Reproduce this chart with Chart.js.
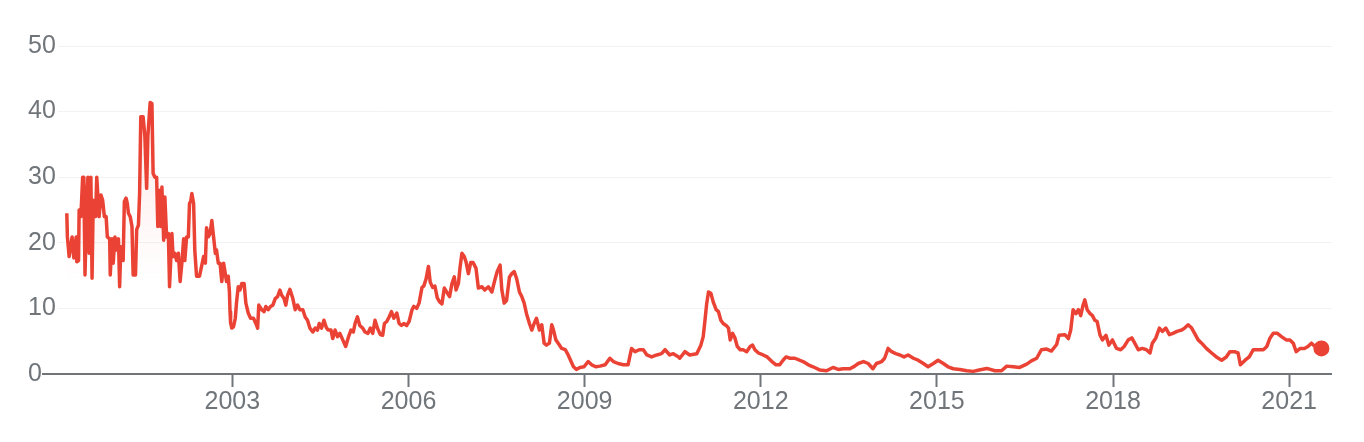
<!DOCTYPE html>
<html>
<head>
<meta charset="utf-8">
<script src="https://cdn.jsdelivr.net/npm/chart.js@4/dist/chart.umd.min.js"></script>
<style>
  html, body { margin: 0; padding: 0; background: #fff; }
  #chart { display: block; }
</style>
</head>
<body>
<canvas id="chart" width="1364" height="442"></canvas>
<script>
// decimal years
const years = [
  2000.18, 2000.19, 2000.22, 2000.27, 2000.30, 2000.34, 2000.35, 2000.38, 2000.39, 2000.42,
  2000.45, 2000.47, 2000.49, 2000.52, 2000.54, 2000.56, 2000.59, 2000.61, 2000.63, 2000.67,
  2000.69, 2000.73, 2000.76, 2000.79, 2000.82, 2000.85, 2000.87, 2000.91, 2000.92, 2000.95,
  2000.97, 2001.00, 2001.03, 2001.06, 2001.08, 2001.10, 2001.14, 2001.16, 2001.19, 2001.21,
  2001.23, 2001.26, 2001.29, 2001.31, 2001.35, 2001.37, 2001.40, 2001.42, 2001.44, 2001.48,
  2001.51, 2001.54, 2001.56, 2001.60, 2001.63, 2001.65, 2001.68, 2001.71, 2001.73, 2001.76,
  2001.78, 2001.80, 2001.83, 2001.85, 2001.88, 2001.91, 2001.93, 2001.97, 2001.99, 2002.02,
  2002.05, 2002.08, 2002.11, 2002.14, 2002.17, 2002.19, 2002.22, 2002.25, 2002.27, 2002.29,
  2002.31, 2002.34, 2002.36, 2002.39, 2002.44, 2002.48, 2002.51, 2002.54, 2002.56, 2002.59,
  2002.62, 2002.65, 2002.68, 2002.71, 2002.73, 2002.76, 2002.79, 2002.82, 2002.85, 2002.88,
  2002.90, 2002.93, 2002.95, 2002.96, 2002.97, 2002.99, 2003.02, 2003.05, 2003.07, 2003.10,
  2003.13, 2003.16, 2003.20, 2003.23, 2003.27, 2003.31, 2003.36, 2003.40, 2003.43, 2003.45,
  2003.50, 2003.54, 2003.57, 2003.61, 2003.65, 2003.69, 2003.73, 2003.77, 2003.81, 2003.84,
  2003.88, 2003.91, 2003.94, 2003.98, 2004.03, 2004.07, 2004.11, 2004.15, 2004.20, 2004.24,
  2004.28, 2004.32, 2004.37, 2004.41, 2004.45, 2004.48, 2004.52, 2004.56, 2004.60, 2004.63,
  2004.68, 2004.71, 2004.75, 2004.79, 2004.83, 2004.88, 2004.93, 2004.98, 2005.02, 2005.06,
  2005.09, 2005.13, 2005.17, 2005.22, 2005.26, 2005.31, 2005.35, 2005.39, 2005.43, 2005.47,
  2005.52, 2005.56, 2005.59, 2005.63, 2005.67, 2005.71, 2005.75, 2005.80, 2005.84, 2005.88,
  2005.92, 2005.97, 2006.01, 2006.06, 2006.09, 2006.14, 2006.18, 2006.23, 2006.26, 2006.30,
  2006.34, 2006.37, 2006.41, 2006.45, 2006.49, 2006.53, 2006.57, 2006.61, 2006.65, 2006.70,
  2006.74, 2006.78, 2006.81, 2006.85, 2006.88, 2006.91, 2006.95, 2006.98, 2007.02, 2007.06,
  2007.10, 2007.15, 2007.19, 2007.25, 2007.30, 2007.36, 2007.42, 2007.47, 2007.51, 2007.56,
  2007.59, 2007.63, 2007.67, 2007.72, 2007.76, 2007.80, 2007.84, 2007.89, 2007.93, 2007.97,
  2008.01, 2008.06, 2008.10, 2008.14, 2008.18, 2008.23, 2008.27, 2008.31, 2008.35, 2008.40,
  2008.44, 2008.47, 2008.51, 2008.55, 2008.61, 2008.67, 2008.72, 2008.76, 2008.81, 2008.86,
  2008.92, 2008.99, 2009.06, 2009.12, 2009.19, 2009.26, 2009.35, 2009.43, 2009.49, 2009.57,
  2009.66, 2009.74, 2009.80, 2009.86, 2009.93, 2010.00, 2010.06, 2010.14, 2010.23, 2010.31,
  2010.37, 2010.45, 2010.51, 2010.60, 2010.62, 2010.71, 2010.79, 2010.91, 2010.98, 2011.02,
  2011.05, 2011.08, 2011.11, 2011.15, 2011.19, 2011.24, 2011.28, 2011.32, 2011.36, 2011.41,
  2011.45, 2011.48, 2011.52, 2011.56, 2011.60, 2011.65, 2011.70, 2011.76, 2011.82, 2011.86,
  2011.90, 2011.96, 2012.04, 2012.11, 2012.19, 2012.26, 2012.32, 2012.38, 2012.43, 2012.50,
  2012.58, 2012.66, 2012.72, 2012.81, 2012.89, 2013.01, 2013.12, 2013.23, 2013.32, 2013.40,
  2013.52, 2013.60, 2013.66, 2013.75, 2013.83, 2013.91, 2013.97, 2014.06, 2014.11, 2014.17,
  2014.23, 2014.30, 2014.37, 2014.44, 2014.51, 2014.60, 2014.68, 2014.77, 2014.85, 2014.94,
  2015.02, 2015.11, 2015.19, 2015.28, 2015.39, 2015.51, 2015.62, 2015.72, 2015.85, 2015.99,
  2016.10, 2016.19, 2016.30, 2016.41, 2016.53, 2016.61, 2016.70, 2016.78, 2016.87, 2016.95,
  2017.04, 2017.08, 2017.18, 2017.24, 2017.28, 2017.32, 2017.37, 2017.41, 2017.45, 2017.49,
  2017.52, 2017.56, 2017.61, 2017.65, 2017.69, 2017.73, 2017.78, 2017.82, 2017.88, 2017.93,
  2017.99, 2018.06, 2018.13, 2018.19, 2018.26, 2018.32, 2018.37, 2018.43, 2018.50, 2018.57,
  2018.63, 2018.67, 2018.73, 2018.79, 2018.84, 2018.90, 2018.96, 2019.02, 2019.09, 2019.17,
  2019.22, 2019.28, 2019.34, 2019.39, 2019.45, 2019.51, 2019.59, 2019.68, 2019.76, 2019.85,
  2019.93, 2019.99, 2020.07, 2020.13, 2020.17, 2020.25, 2020.32, 2020.39, 2020.48, 2020.56,
  2020.62, 2020.67, 2020.73, 2020.80, 2020.87, 2020.95, 2021.01, 2021.07, 2021.12, 2021.19,
  2021.26, 2021.32, 2021.38, 2021.44, 2021.55
];

const prices = [
  24.5, 20.9, 17.9, 20.9, 17.7, 20.9, 17.1, 17.3, 25.0, 24.0,
  30.0, 30.0, 15.1, 26.5, 30.0, 18.4, 30.0, 14.6, 26.5, 24.0,
  30.0, 24.0, 27.3, 26.5, 24.0, 24.0, 20.9, 20.6, 15.1, 20.6,
  16.9, 20.9, 18.9, 20.6, 13.3, 19.4, 17.3, 26.3, 26.8, 26.0,
  24.5, 24.0, 22.5, 15.1, 15.1, 22.0, 22.7, 27.5, 39.2, 39.2,
  36.2, 28.3, 36.2, 41.4, 41.2, 30.6, 30.0, 30.0, 22.5, 28.0,
  22.5, 28.5, 20.4, 27.0, 20.9, 21.4, 13.3, 21.4, 17.9, 18.4,
  17.3, 18.4, 14.1, 16.9, 20.6, 17.3, 20.9, 20.9, 26.0, 26.3,
  27.5, 26.0, 18.9, 14.9, 14.9, 16.6, 17.9, 16.9, 22.3, 20.9,
  21.4, 23.4, 20.9, 18.4, 18.9, 16.9, 16.9, 14.1, 16.9, 15.3,
  14.1, 14.9, 12.5, 9.5, 7.8, 7.0, 7.2, 8.5, 10.8, 13.3,
  12.8, 13.8, 13.8, 10.8, 9.3, 8.5, 8.5, 7.7, 7.0, 10.5,
  9.8, 9.5, 10.3, 9.8, 10.3, 10.5, 11.5, 11.8, 12.8, 12.0,
  11.5, 10.5, 12.0, 12.9, 11.5, 9.8, 10.5, 9.8, 9.8, 8.7,
  8.2, 7.0, 6.4, 7.0, 6.7, 7.7, 7.0, 8.2, 7.1, 6.7,
  6.7, 5.4, 6.7, 5.7, 6.2, 5.2, 4.2, 5.7, 6.7, 6.4,
  7.7, 8.7, 7.4, 7.0, 6.4, 6.2, 7.0, 6.2, 8.2, 7.0,
  6.0, 5.9, 7.7, 8.0, 8.7, 9.5, 8.5, 9.3, 7.7, 7.4,
  7.7, 7.4, 8.0, 9.8, 10.3, 10.0, 10.8, 13.2, 13.4, 14.5,
  16.4, 14.0, 13.2, 13.4, 11.6, 11.0, 10.7, 13.1, 12.5, 11.8,
  13.8, 14.8, 12.8, 13.8, 16.4, 18.4, 17.9, 17.1, 15.3, 17.0,
  17.0, 16.1, 13.1, 13.3, 12.8, 13.3, 12.5, 14.3, 15.6, 16.6,
  12.8, 10.8, 11.2, 14.8, 15.3, 15.6, 14.6, 12.5, 11.8, 10.8,
  9.2, 7.7, 6.7, 7.7, 8.5, 6.7, 7.5, 4.7, 4.4, 4.7,
  7.5, 6.7, 5.2, 4.7, 3.9, 3.7, 2.9, 2.1, 1.1, 0.7,
  1.0, 1.1, 1.9, 1.4, 1.1, 1.2, 1.4, 2.4, 1.9, 1.6,
  1.4, 1.4, 3.9, 3.4, 3.7, 3.7, 2.9, 2.6, 2.9, 3.1,
  3.7, 2.9, 3.1, 2.6, 2.4, 3.4, 2.9, 3.1, 4.4, 5.7,
  8.2, 10.8, 12.5, 12.3, 11.0, 9.8, 9.5, 8.2, 7.7, 7.4,
  7.0, 5.2, 6.2, 5.5, 4.2, 3.7, 3.7, 3.4, 4.2, 4.4,
  3.7, 3.2, 2.9, 2.6, 1.9, 1.4, 1.4, 2.1, 2.6, 2.4,
  2.4, 2.1, 1.9, 1.4, 1.1, 0.6, 0.5, 1.0, 0.7, 0.8,
  0.8, 1.2, 1.6, 1.9, 1.6, 0.8, 1.6, 1.9, 2.4, 3.9,
  3.4, 3.1, 2.9, 2.6, 2.9, 2.4, 2.1, 1.6, 1.1, 1.6,
  2.1, 1.6, 1.1, 0.8, 0.7, 0.5, 0.4, 0.6, 0.85, 0.5,
  0.5, 1.2, 1.1, 1.0, 1.5, 2.0, 2.4, 3.7, 3.8, 3.5,
  4.5, 5.9, 6.0, 5.4, 6.7, 9.8, 9.2, 9.8, 8.9, 10.5,
  11.3, 9.8, 9.2, 8.9, 8.2, 8.0, 5.9, 5.2, 5.9, 4.4,
  5.2, 3.9, 3.7, 4.2, 5.2, 5.5, 4.7, 3.7, 3.9, 3.7,
  3.2, 4.7, 5.5, 7.0, 6.5, 7.0, 6.0, 6.2, 6.5, 6.7,
  7.0, 7.5, 7.0, 6.2, 5.2, 4.7, 3.9, 3.2, 2.6, 2.1,
  2.6, 3.4, 3.4, 3.2, 1.4, 2.1, 2.6, 3.7, 3.7, 3.7,
  4.2, 5.4, 6.2, 6.2, 5.7, 5.2, 5.2, 4.7, 3.4, 3.9,
  3.9, 4.2, 4.7, 4.2, 3.9
];

const tickYears = [2003, 2006, 2009, 2012, 2015, 2018, 2021];
const yTicks = [0, 10, 20, 30, 40, 50];

const RED = '#ea4335';
const GREY = '#70757a';
const FONT = { family: '"Liberation Sans", Arial, Helvetica, sans-serif', size: 25 };

// baseline starts a little left of the plot, right after the "0" label
const baseline = {
  id: 'baseline',
  afterDatasetsDraw(chart) {
    const { ctx, chartArea, scales } = chart;
    const y = scales.y.getPixelForValue(0);
    ctx.save();
    ctx.strokeStyle = GREY;
    ctx.lineWidth = 2;
    ctx.beginPath();
    ctx.moveTo(chartArea.left - 16, y);
    ctx.lineTo(chartArea.right, y);
    ctx.stroke();
    ctx.restore();
  }
};

const points = years.map((x, i) => ({ x, y: prices[i] }));
const last = points.length - 1;

new Chart(document.getElementById('chart').getContext('2d'), {
  type: 'line',
  data: {
    datasets: [{
      data: points,
      borderColor: RED,
      borderWidth: 3.5,
      borderJoinStyle: 'round',
      tension: 0,
      fill: 'origin',
      backgroundColor: (c) => {
        const { ctx, chartArea } = c.chart;
        if (!chartArea) return 'rgba(0,0,0,0)';
        // faint pink that only shows under the high early part
        const g = ctx.createLinearGradient(0, chartArea.top, 0, chartArea.bottom);
        g.addColorStop(0, 'rgba(234,67,53,0.14)');
        g.addColorStop(0.45, 'rgba(234,67,53,0.06)');
        g.addColorStop(0.72, 'rgba(234,67,53,0)');
        g.addColorStop(1, 'rgba(234,67,53,0)');
        return g;
      },
      pointRadius: (c) => (c.dataIndex === last ? 8 : 0),
      pointBackgroundColor: RED,
      pointBorderWidth: 0,
      pointHoverRadius: 0
    }]
  },
  options: {
    responsive: false,
    devicePixelRatio: 1,
    animation: false,
    events: [],
    layout: { padding: { top: 46, left: 28, right: 32, bottom: 0 } },
    plugins: { legend: { display: false }, tooltip: { enabled: false } },
    scales: {
      x: {
        type: 'linear',
        min: 2000.03,
        max: 2021.73,
        afterBuildTicks: (axis) => { axis.ticks = tickYears.map(v => ({ value: v })); },
        afterFit: (axis) => { axis.height = 68; },
        grid: { drawOnChartArea: false, drawTicks: true, tickLength: 13, tickColor: GREY, tickWidth: 2 },
        border: { display: false },
        ticks: {
          autoSkip: false,
          maxRotation: 0,
          padding: 0,
          color: GREY,
          font: FONT,
          callback: (v) => String(v)
        }
      },
      y: {
        min: 0,
        max: 50,
        afterBuildTicks: (axis) => { axis.ticks = yTicks.map(v => ({ value: v })); },
        afterFit: (axis) => { axis.width = 30; },
        grid: { color: 'rgba(0,0,0,0.05)', lineWidth: 1, drawTicks: false },
        border: { display: false },
        ticks: {
          crossAlign: 'far',
          padding: 0,
          color: GREY,
          font: FONT,
          callback: (v) => String(v)
        }
      }
    }
  },
  plugins: [baseline]
});
</script>
</body>
</html>
